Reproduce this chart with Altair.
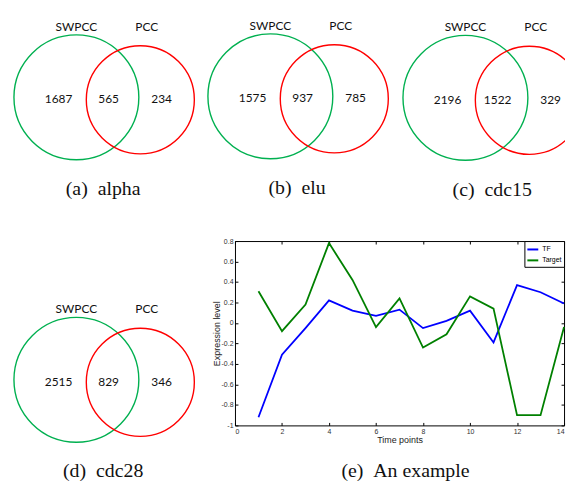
import altair as alt
import pandas as pd

# ---------------- data ----------------
set_names = ["SWPCC", "PCC"]
panel_tags = ["(a)", "(b)", "(c)", "(d)"]
datasets = ["alpha", "elu", "cdc15", "cdc28"]
only_swpcc = [1687, 1575, 2196, 2515]
both_sets = [565, 937, 1522, 829]
only_pcc = [234, 785, 329, 346]

time_points = list(range(1, 15))
tf_values = [-0.92, -0.31, -0.05, 0.22, 0.12, 0.07, 0.13, -0.05, 0.02, 0.12, -0.19, 0.37, 0.30, 0.19]
target_values = [0.31, -0.08, 0.18, 0.78, 0.42, -0.04, 0.24, -0.24, -0.11, 0.26, 0.14, -0.90, -0.90, -0.04]
series_names = ["TF", "Target"]
x_ticks = [0, 2, 4, 6, 8, 10, 12, 14]
y_ticks = [-1, -0.8, -0.6, -0.4, -0.2, 0, 0.2, 0.4, 0.6, 0.8]
example_caption = "(e)\u00a0\u00a0An example"

# ---------------- layout (page pixel positions) ----------------
green_centres = [(76, 95), (271.7, 94), (468.5, 95.5), (76, 380)]
caption_dy = [93, 93, 93, 92]
RED_DX, RED_DY = 64.5, 2.5
GREEN_D, RED_D = 126, 109
GREEN, RED = "#00B050", "#FF0000"
VENN_FONT = "Lato"
CAP_FONT = "Liberation Serif"
RIGHT_EDGE = 569
BOTTOM_EDGE = 482


def venn_frames(idx_list):
    greens, reds, names, counts, caps = [], [], [], [], []
    for i in idx_list:
        gx, gy = green_centres[i]
        greens.append({"cx": gx, "cy": gy, "s": GREEN_D ** 2})
        reds.append({"cx": gx + RED_DX, "cy": gy + RED_DY, "s": RED_D ** 2})
        names.append({"x": gx, "y": gy - 71, "t": set_names[0]})
        names.append({"x": gx + 71, "y": gy - 71, "t": set_names[1]})
        counts.append({"x": gx - 18, "y": gy + 2, "t": str(only_swpcc[i])})
        counts.append({"x": gx + 32.5, "y": gy + 2, "t": str(both_sets[i])})
        counts.append({"x": gx + 86, "y": gy + 2, "t": str(only_pcc[i])})
        caps.append({"x": gx + 27, "y": gy + caption_dy[i], "t": panel_tags[i] + "\u00a0\u00a0" + datasets[i]})
    return pd.DataFrame(greens), pd.DataFrame(reds), pd.DataFrame(names), pd.DataFrame(counts), caps


def venn_chart(idx_list, xdom, ydom, extra_caps=()):
    greens, reds, names, counts, caps = venn_frames(idx_list)
    caps = pd.DataFrame(list(caps) + list(extra_caps))
    X = lambda f: alt.X(f, scale=alt.Scale(domain=xdom, nice=False, zero=False), axis=None)
    Y = lambda f: alt.Y(f, scale=alt.Scale(domain=ydom, nice=False, zero=False, reverse=True), axis=None)

    def circ(df, col):
        return alt.Chart(df).mark_point(shape="circle", filled=False, strokeWidth=1.4, opacity=1,
                                        color=col, clip=True).encode(
            x=X("cx:Q"), y=Y("cy:Q"), size=alt.Size("s:Q", scale=None))

    def txt(df, font, size):
        return alt.Chart(df).mark_text(font=font, fontSize=size, color="#111", baseline="middle",
                                       align="center").encode(x=X("x:Q"), y=Y("y:Q"), text="t:N")

    return alt.layer(circ(greens, GREEN), circ(reds, RED),
                     txt(names, VENN_FONT, 12), txt(counts, VENN_FONT, 12),
                     txt(caps, CAP_FONT, 20)).properties(
        width=xdom[1] - xdom[0], height=ydom[1] - ydom[0])


top = venn_chart([0, 1, 2], [8, RIGHT_EDGE], [8, 240])
bottom_venn = venn_chart([3], [8, 236], [240, BOTTOM_EDGE],
                         extra_caps=[{"x": 408, "y": green_centres[3][1] + caption_dy[3], "t": example_caption}])

# ---------------- line chart ----------------
line_df = pd.DataFrame({
    "t": time_points * 2,
    "v": tf_values + target_values,
    "s": [series_names[0]] * len(time_points) + [series_names[1]] * len(time_points),
})

axis_common = dict(offset=-3, tickSize=3, domain=False, grid=False, tickColor="black",
                   labelFont="Liberation Sans", labelFontSize=7, labelColor="#333",
                   titleFont="Liberation Sans", titleFontSize=9, titleFontWeight="normal", titleColor="#222")

lines = alt.Chart(line_df).mark_line(strokeWidth=1.8).encode(
    x=alt.X("t:Q", scale=alt.Scale(domain=[0, 14], nice=False, zero=False),
            axis=alt.Axis(orient="bottom", values=x_ticks, title="Time points", labelPadding=2, titlePadding=1, **axis_common)),
    y=alt.Y("v:Q", scale=alt.Scale(domain=[-1, 0.8], nice=False, zero=False),
            axis=alt.Axis(orient="left", values=y_ticks, title="Expression level", labelPadding=2, titlePadding=0,
                          labelExpr="toString(round(datum.value*10)/10)", **axis_common)),
    color=alt.Color("s:N", title=None, scale=alt.Scale(domain=series_names, range=["#0000FF", "#008000"]),
                    legend=alt.Legend(orient="top-right", offset=0, fillColor="white", strokeColor="black",
                                      padding=2, symbolType="stroke", symbolSize=121, symbolStrokeWidth=2,
                                      labelFont="Liberation Sans", labelFontSize=7, labelColor="black",
                                      rowPadding=0, labelOffset=3)),
)

ticks_tr = alt.Chart(line_df).mark_line(opacity=0).encode(
    x=alt.X("t:Q", axis=alt.Axis(orient="top", values=x_ticks, labels=False, title="", **axis_common)),
    y=alt.Y("v:Q", axis=alt.Axis(orient="right", values=y_ticks, labels=False, title="", **axis_common)),
    detail="s:N",
)

line_chart = alt.layer(lines, ticks_tr).resolve_axis(x="independent", y="independent").properties(
    width=RIGHT_EDGE - 1 - 236, height=186, view=alt.ViewBackground(stroke="black", strokeWidth=1))

bottom = alt.hconcat(bottom_venn, line_chart, spacing=0, bounds="flush").resolve_scale(
    color="independent").resolve_legend(color="independent")
chart = alt.vconcat(top, bottom, spacing=0, bounds="flush").resolve_scale(
    color="independent").resolve_legend(color="independent").properties(padding=0).configure_view(
    stroke="transparent")

chart.save("out.html", embed_options={"renderer": "svg", "actions": False})
